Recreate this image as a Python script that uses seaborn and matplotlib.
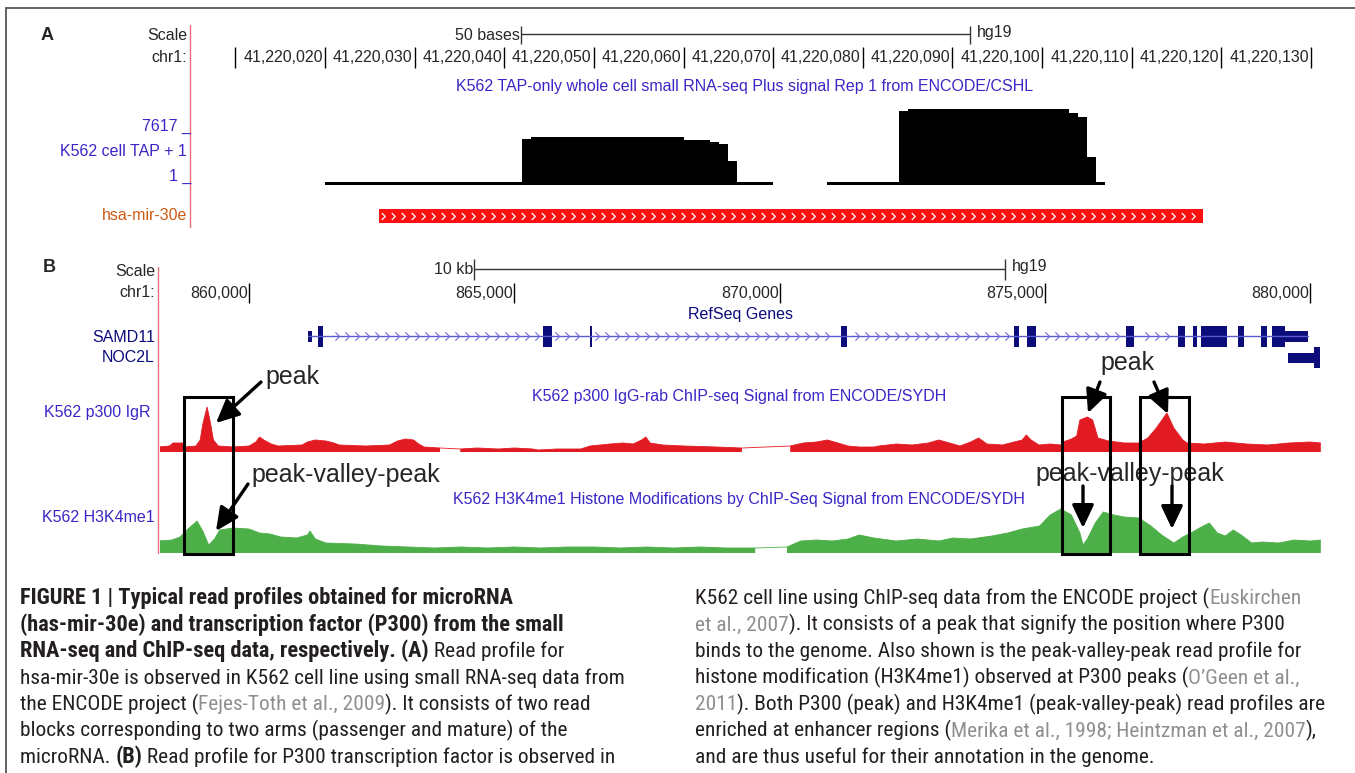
import numpy as np
import matplotlib
matplotlib.use("Agg")
import matplotlib.pyplot as plt
from matplotlib.path import Path
from matplotlib.patches import Rectangle
import seaborn as sns

# ---------------- Panel A: hsa-mir-30e small RNA-seq (chr1, hg19) ----------------
tap_arm1_start = [41220020, 41220042, 41220043, 41220060, 41220063, 41220064, 41220065, 41220066]
tap_arm1_value = [1, 6500, 6810, 6400, 6140, 5790, 3245, 1]
tap_arm1_end = 41220070
tap_arm2_start = [41220076, 41220084, 41220085, 41220103, 41220104, 41220105, 41220106]
tap_arm2_value = [1, 10815, 11070, 10560, 9950, 3855, 1]
tap_arm2_end = 41220107
mir30e_start, mir30e_end = 41220026, 41220118
ticks_a = list(range(41220010, 41220131, 10))
scale_a_start, scale_a_len = 41220041.9, 50

# ---------------- Panel B: chr1 ~858.3-880.2 kb ----------------
ticks_b = [860, 865, 870, 875, 880]
scale_b_start, scale_b_len = 864.24, 10
samd11_tx = (861.121, 879.961)
samd11_cds_start = [861.302, 865.535, 866.419, 871.152, 874.420, 874.655, 876.524,
                    877.516, 877.790, 877.939, 878.633, 879.078, 879.288]
samd11_cds_end = [861.393, 865.716, 866.469, 871.276, 874.509, 874.840, 876.686,
                  877.631, 877.868, 878.438, 878.757, 879.188, 879.533]
samd11_utr_start = [861.121, 879.533]
samd11_utr_end = [861.180, 879.961]
noc2l_utr = (879.584, 880.074)
noc2l_cds = (880.074, 880.180)

p300_kb = [858.29, 858.50, 858.57, 858.75, 858.78, 859.00, 859.08, 859.13, 859.21, 859.27,
           859.33, 859.42, 859.70, 860.00, 860.13, 860.20, 860.28, 860.42, 860.55, 861.00,
           861.10, 861.25, 861.45, 861.60, 861.70, 862.20, 862.65, 862.80, 862.95, 863.10,
           863.20, 863.30, 863.60, 863.79, 863.98, 864.30, 864.70, 865.00, 865.35, 865.45,
           865.80, 866.25, 866.43, 866.80, 867.05, 867.24, 867.40, 867.48, 867.56, 867.80,
           868.20, 868.80, 869.29, 869.75, 870.20, 870.45, 870.70, 870.90, 871.10, 871.29,
           871.50, 871.78, 871.87, 872.20, 872.50, 872.80, 873.00, 873.27, 873.40, 873.60,
           873.75, 873.91, 874.20, 874.57, 874.65, 874.74, 874.89, 875.10, 875.30, 875.34,
           875.50, 875.60, 875.66, 875.80, 875.90, 876.00, 876.20, 876.50, 876.77, 876.94,
           877.10, 877.30, 877.43, 877.60, 877.68, 878.00, 878.40, 878.80, 879.20, 879.60,
           880.00, 880.20]
p300_signal = [5, 6, 9, 9, 5, 6, 12, 28, 45, 30,
               12, 6, 5, 6, 10, 15, 12, 8, 6, 7,
               10, 12, 11, 9, 7, 6, 7, 11, 13, 12,
               8, 5, 4, np.nan, 3, 4, 3, 4, 3, 2,
               3, 3, 6, 8, 9, 8, 12, 15, 9, 7,
               6, 5, 4, np.nan, 6, 9, 10, 12, 9, 6,
               5, 5, 6, 8, 7, 9, 12, 8, 6, 10,
               14, 8, 7, 12, 17, 12, 7, 8, 7, 10,
               13, 16, 32, 35, 32, 14, 11, 9, 9, 14,
               24, 39, 24, 12, 9, 8, 10, 8, 7, 9,
               10, 9]

h3k4me1_kb = [858.29, 858.55, 858.70, 858.85, 859.02, 859.13, 859.24, 859.35, 859.45, 859.70,
              860.00, 860.20, 860.40, 860.60, 860.90, 861.10, 861.15, 861.25, 861.45, 862.00,
              862.50, 863.00, 863.50, 864.00, 864.50, 865.00, 865.50, 866.00, 866.50, 867.00,
              867.50, 868.00, 868.50, 869.00, 869.54, 869.84, 870.14, 870.40, 870.70, 871.00,
              871.29, 871.50, 871.78, 872.20, 872.60, 873.00, 873.27, 873.60, 874.00, 874.30,
              874.57, 874.90, 875.10, 875.30, 875.50, 875.66, 875.72, 875.80, 875.95, 876.10,
              876.30, 876.50, 876.77, 877.00, 877.20, 877.43, 877.60, 877.75, 877.95, 878.10,
              878.25, 878.40, 878.55, 878.70, 878.90, 879.10, 879.40, 879.70, 880.00, 880.20]
h3k4me1_signal = [12, 13, 16, 24, 32, 22, 8, 14, 23, 25,
                  24, 20, 19, 16, 15, 18, 22, 14, 10, 9,
                  7, 6, 5, 6, 5, 6, 5, 6, 6, 5,
                  6, 5, 6, 5, 5, np.nan, 6, 12, 13, 12,
                  14, 18, 15, 12, 14, 12, 15, 14, 17, 20,
                  24, 27, 38, 44, 38, 20, 8, 14, 30, 41,
                  38, 36, 35, 27, 18, 10, 16, 20, 26, 30,
                  20, 17, 23, 18, 10, 11, 10, 13, 12, 13]

box_start_kb = [858.775, 875.322, 876.792]
box_end_kb = [859.698, 876.227, 877.716]

# ---------------- layout helpers (figure in pixels) ----------------
W, H = 1355, 773
sns.set_theme(style="white")
UCSC = ['Liberation Sans', 'DejaVu Sans']
CAP = ['Liberation Sans Narrow', 'Noto Sans Condensed', 'Roboto Condensed',
       'DejaVu Sans Condensed', 'Liberation Sans']
plt.rcParams['font.family'] = UCSC

BLUE = '#3a26c6'
NAVY = '#0c0c7a'
RED = '#e21b23'
GREEN = '#4caf48'

fig = plt.figure(figsize=(W / 100, H / 100), dpi=100)


def px_axes(x0, y0, x1, y1, z=1):
    ax = fig.add_axes([x0 / W, 1 - y1 / H, (x1 - x0) / W, (y1 - y0) / H])
    ax.set_axis_off()
    ax.patch.set_alpha(0)
    ax.set_zorder(z)
    return ax


def ftext(x, y, s, **kw):
    return fig.text(x / W, 1 - y / H, s, **kw)


def base_at(x):
    return 41220020 + (x - 325) / 8.964


def kb_at(x):
    return 860 + (x - 249) / 53.06


FS = 11.5

# ---------------- frame ----------------
frame = px_axes(0, 0, W, H, z=0)
frame.set_xlim(0, W)
frame.set_ylim(H, 0)
frame.plot([6, 6], [8, H], color='#555555', lw=1.3)
frame.plot([6, W], [8, 8], color='#555555', lw=1.3)
frame.plot([190, 190], [25, 227], color='#e8707a', lw=1)
frame.plot([158, 158], [267, 553], color='#e8707a', lw=1)

# ---------------- Panel A ----------------
ftext(41, 36, 'A', fontsize=13, fontweight='bold', va='center', ha='left')
ftext(187, 36, 'Scale', fontsize=FS, va='center', ha='right')
ftext(187, 58, 'chr1:', fontsize=FS, va='center', ha='right')
ftext(191, 126, '7617 _', fontsize=FS, color=BLUE, va='center', ha='right')
ftext(187, 152, 'K562 cell TAP + 1', fontsize=FS, color=BLUE, va='center', ha='right')
ftext(191, 176, '1 _', fontsize=FS, color=BLUE, va='center', ha='right')
ftext(187, 216, 'hsa-mir-30e', fontsize=FS, color='#cc5a14', va='center', ha='right')
ftext(745, 87, 'K562 TAP-only whole cell small RNA-seq Plus signal Rep 1 from ENCODE/CSHL',
      fontsize=FS, color=BLUE, va='center', ha='center')

ruler_a = px_axes(191, 15, 1352, 75)
ruler_a.set_xlim(base_at(191), base_at(1352))
ruler_a.set_ylim(75, 15)
ruler_a.vlines(ticks_a, 47, 68, color='black', lw=1)
for t in ticks_a[1:]:
    ruler_a.text(t - 0.25, 58, f"{t:,}", fontsize=FS, ha='right', va='center')
ruler_a.hlines(34, scale_a_start, scale_a_start + scale_a_len, color='#333333', lw=1)
ruler_a.vlines([scale_a_start, scale_a_start + scale_a_len], 26, 44, color='#333333', lw=1)
ruler_a.text(scale_a_start - 0.15, 35, '50 bases', fontsize=FS, ha='right', va='center')
ruler_a.text(scale_a_start + scale_a_len + 0.8, 32, 'hg19', fontsize=FS, ha='left', va='center')

k = 7616 / 50
sig_a = px_axes(191, 95, 1352, 185)
sig_a.set_xlim(base_at(191), base_at(1352))
bottom_a = 1 - 3 * k
sig_a.set_ylim(bottom_a, 1 + 87 * k)
for starts, vals, end in [(tap_arm1_start, tap_arm1_value, tap_arm1_end),
                          (tap_arm2_start, tap_arm2_value, tap_arm2_end)]:
    xs = starts + [end]
    ys = vals + [vals[-1]]
    sig_a.fill_between(xs, bottom_a, ys, step='post', color='black', lw=0)

gene_a = px_axes(191, 200, 1352, 230)
gene_a.set_xlim(base_at(191), base_at(1352))
gene_a.set_ylim(230, 200)
gene_a.broken_barh([(mir30e_start, mir30e_end - mir30e_start)], (209, 14), color='#ff1010', lw=0)
chev = Path([(-0.5, 1.0), (0.5, 0.0), (-0.5, -1.0)], [Path.MOVETO, Path.LINETO, Path.LINETO])
chev_a = np.arange(mir30e_start + 0.5, mir30e_end - 0.5, 10 / 8.964)
gene_a.plot(chev_a, np.full(len(chev_a), 216), ls='none', marker=chev, markersize=5,
            markerfacecolor='none', markeredgecolor='white', mew=0.9)

# ---------------- Panel B ----------------
ftext(43, 268, 'B', fontsize=13, fontweight='bold', va='center', ha='left')
ftext(155, 272, 'Scale', fontsize=FS, va='center', ha='right')
ftext(155, 293, 'chr1:', fontsize=FS, va='center', ha='right')
ftext(155, 337, 'SAMD11', fontsize=FS, color=NAVY, va='center', ha='right')
ftext(155, 358, 'NOC2L', fontsize=FS, color=NAVY, va='center', ha='right')
ftext(150, 413, 'K562 p300 IgR', fontsize=FS, color=BLUE, va='center', ha='right')
ftext(155, 517, 'K562 H3K4me1', fontsize=FS, color=BLUE, va='center', ha='right')
ftext(740, 315, 'RefSeq Genes', fontsize=FS, color=NAVY, va='center', ha='center')
ftext(739, 397, 'K562 p300 IgG-rab ChIP-seq Signal from ENCODE/SYDH',
      fontsize=FS, color=BLUE, va='center', ha='center')
ftext(739, 500, 'K562 H3K4me1 Histone Modifications by ChIP-Seq Signal from ENCODE/SYDH',
      fontsize=FS, color=BLUE, va='center', ha='center')

xlim_b = (kb_at(160), kb_at(1321))
ruler_b = px_axes(160, 255, 1321, 310)
ruler_b.set_xlim(xlim_b)
ruler_b.set_ylim(310, 255)
ruler_b.vlines(ticks_b, 283, 303, color='black', lw=1)
for t in ticks_b:
    ruler_b.text(t - 0.02, 293, f"{t * 1000:,}", fontsize=FS, ha='right', va='center')
ruler_b.hlines(269, scale_b_start, scale_b_start + scale_b_len, color='#333333', lw=1)
ruler_b.vlines([scale_b_start, scale_b_start + scale_b_len], 259, 280, color='#333333', lw=1)
ruler_b.text(scale_b_start - 0.02, 270, '10 kb', fontsize=FS, ha='right', va='center')
ruler_b.text(scale_b_start + scale_b_len + 0.14, 266, 'hg19', fontsize=FS, ha='left', va='center')

gene_b = px_axes(160, 320, 1321, 372)
gene_b.set_xlim(xlim_b)
gene_b.set_ylim(372, 320)
sns.lineplot(x=list(samd11_tx), y=[336, 336], ax=gene_b, color='#5a5ad0', lw=1)
chev_b = np.arange(samd11_tx[0] + 0.35, samd11_tx[1], 10 / 53.06)
inside = np.zeros(len(chev_b), bool)
for s, e in zip(samd11_cds_start + samd11_utr_start, samd11_cds_end + samd11_utr_end):
    inside |= (chev_b > s - 0.08) & (chev_b < e + 0.08)
chev_b = chev_b[~inside]
gene_b.plot(chev_b, np.full(len(chev_b), 336), ls='none', marker=chev, markersize=6,
            markerfacecolor='none', markeredgecolor='#6a6ad8', mew=0.8)
gene_b.broken_barh([(s, e - s) for s, e in zip(samd11_cds_start, samd11_cds_end)],
                   (325.5, 21), color=NAVY, lw=0)
gene_b.broken_barh([(s, e - s) for s, e in zip(samd11_utr_start, samd11_utr_end)],
                   (330.5, 11), color=NAVY, lw=0)
gene_b.broken_barh([(noc2l_utr[0], noc2l_utr[1] - noc2l_utr[0])], (353, 10), color=NAVY, lw=0)
gene_b.broken_barh([(noc2l_cds[0], noc2l_cds[1] - noc2l_cds[0])], (347, 21), color=NAVY, lw=0)

red_ax = px_axes(160, 398, 1321, 452)
red_ax.set_xlim(xlim_b)
red_ax.set_ylim(0, 54)
red_ax.fill_between(p300_kb, 0, p300_signal, color=RED, lw=0)
sns.lineplot(x=p300_kb, y=p300_signal, ax=red_ax, color=RED, lw=0.6, estimator=None, sort=False)

green_ax = px_axes(160, 499, 1321, 553)
green_ax.set_xlim(xlim_b)
green_ax.set_ylim(0, 54)
green_ax.fill_between(h3k4me1_kb, 0, h3k4me1_signal, color=GREEN, lw=0)
sns.lineplot(x=h3k4me1_kb, y=h3k4me1_signal, ax=green_ax, color=GREEN, lw=0.6,
             estimator=None, sort=False)

# annotation text (under the box outlines)
ftext(265, 377, 'peak', fontsize=18, va='center', ha='left')
ftext(1128, 363, 'peak', fontsize=18, va='center', ha='center')
ftext(251, 475, 'peak-valley-peak', fontsize=18, va='center', ha='left')
ftext(1130, 474, 'peak-valley-peak', fontsize=18, va='center', ha='center')

box_ax = px_axes(160, 397, 1321, 554, z=5)
box_ax.set_xlim(xlim_b)
box_ax.set_ylim(0, 1)
for s, e in zip(box_start_kb, box_end_kb):
    box_ax.add_patch(Rectangle((s, 0), e - s, 1, fill=False, ec='black', lw=2.2, clip_on=False))

arrows = [((261, 382), (216, 423)), ((248, 484), (216, 531)),
          ((1100, 382), (1088, 413)), ((1154, 382), (1168, 414)),
          ((1083, 486), (1083, 528)), ((1172, 486), (1172, 529))]
for (x0, y0), (x1, y1) in arrows:
    box_ax.annotate('', xy=(x1, H - y1), xycoords='figure pixels',
                    xytext=(x0, H - y0), textcoords='figure pixels',
                    arrowprops=dict(arrowstyle='-|>,head_length=0.7,head_width=0.33',
                                    lw=2.4, color='black', shrinkA=0, shrinkB=0,
                                    mutation_scale=20),
                    annotation_clip=False)

# ---------------- caption ----------------
renderer = fig.canvas.get_renderer()


def text_width(s, weight, size):
    a = fig.text(0, 0, 'x' + s + 'x', fontsize=size, fontweight=weight, family=CAP,
                 fontstretch='condensed')
    b = fig.text(0, 0, 'xx', fontsize=size, fontweight=weight, family=CAP,
                 fontstretch='condensed')
    w = a.get_window_extent(renderer).width - b.get_window_extent(renderer).width
    a.remove()
    b.remove()
    return w


# fit the caption fonts to the line widths seen in the figure
probe_n = 'K562 cell line using ChIP-seq data from the ENCODE project (Euskirchen'
probe_b = 'FIGURE 1 | Typical read profiles obtained for microRNA'
CAP_FS = 14.5 * 607 / text_width(probe_n, 'normal', 14.5)
CAP_FS_B = 0.5 * (CAP_FS + 14.5 * 513 / text_width(probe_b, 'bold', 14.5))


def caption_line(x, y, runs):
    for s, kind in runs:
        weight = 'bold' if kind == 'b' else 'normal'
        size = CAP_FS_B if kind == 'b' else CAP_FS
        color = '#8f8f8f' if kind == 'g' else '#231f20'
        ftext(x, y, s, fontsize=size, fontweight=weight, color=color, family=CAP,
              fontstretch='condensed', va='baseline', ha='left')
        x += text_width(s, weight, size)


left_lines = [
    [('FIGURE 1 | Typical read profiles obtained for microRNA', 'b')],
    [('(has-mir-30e) and transcription factor (P300) from the small', 'b')],
    [('RNA-seq and ChIP-seq data, respectively. (A)', 'b'), (' Read profile for', 'n')],
    [('hsa-mir-30e is observed in K562 cell line using small RNA-seq data from', 'n')],
    [('the ENCODE project (', 'n'), ('Fejes-Toth et al., 2009', 'g'), ('). It consists of two read', 'n')],
    [('blocks corresponding to two arms (passenger and mature) of the', 'n')],
    [('microRNA. ', 'n'), ('(B)', 'b'), (' Read profile for P300 transcription factor is observed in', 'n')],
]
right_lines = [
    [('K562 cell line using ChIP-seq data from the ENCODE project (', 'n'), ('Euskirchen', 'g')],
    [('et al., 2007', 'g'), ('). It consists of a peak that signify the position where P300', 'n')],
    [('binds to the genome. Also shown is the peak-valley-peak read profile for', 'n')],
    [('histone modification (H3K4me1) observed at P300 peaks (', 'n'), ('O\u2019Geen et al.,', 'g')],
    [('2011', 'g'), ('). Both P300 (peak) and H3K4me1 (peak-valley-peak) read profiles are', 'n')],
    [('enriched at enhancer regions (', 'n'), ('Merika et al., 1998; Heintzman et al., 2007', 'g'), ('),', 'n')],
    [('and are thus useful for their annotation in the genome.', 'n')],
]
for i, runs in enumerate(left_lines):
    caption_line(20, 604 + i * 26.5, runs)
for i, runs in enumerate(right_lines):
    caption_line(695, 604 + i * 26.5, runs)

fig.savefig("out.png", dpi=100)
